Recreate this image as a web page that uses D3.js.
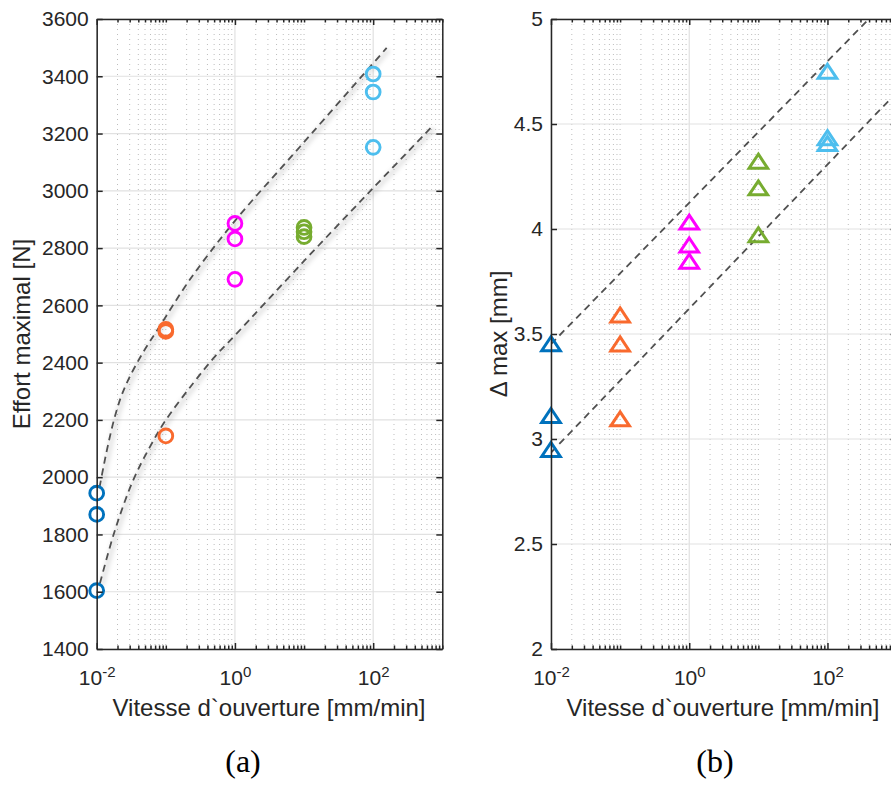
<!DOCTYPE html>
<html><head><meta charset="utf-8">
<script src="https://cdn.jsdelivr.net/npm/d3@7"></script>
<style>
html,body{margin:0;padding:0;background:#fff;}
svg{display:block;}
</style></head>
<body>
<svg id="chart" width="891" height="805"></svg>
<script>
// ---------- DATA ----------
const speeds = [0.01, 0.1, 1, 10, 100];
const seriesColors = ["#0072BD", "#F96A2E", "#FF00FF", "#77AC30", "#4DBEEE"];
// (a) Effort maximal [N]
const effort_001 = [1944, 1870, 1604];
const effort_01  = [2509, 2516, 2144];
const effort_1   = [2886, 2832, 2691];
const effort_10  = [2872, 2857, 2840];
const effort_100 = [3408, 3345, 3152];
// (b) Delta max [mm]
const delta_001 = [3.452, 3.110, 2.948];
const delta_01  = [3.589, 3.451, 3.094];
const delta_1   = [4.031, 3.922, 3.845];
const delta_10  = [4.321, 4.194, 3.971];
const delta_100 = [4.749, 4.433, 4.405];
// fitted curves (a)
const upperFitX = [0.011, 0.01275, 0.01457, 0.01778, 0.02245, 0.0293, 0.04668, 0.0822, 0.223, 1.0, 8.667, 156.7];
const upperFitY = [1965, 2045, 2112, 2200, 2280, 2345, 2435, 2528, 2690, 2895, 3153, 3499];
const lowerFitX = [0.01116, 0.01839, 0.03379, 0.05892, 0.1003, 0.2489, 0.5124, 1.0, 10, 100, 707.5];
const lowerFitY = [1630, 1815, 1990, 2106, 2200, 2328, 2421, 2495, 2755, 3010, 3224];
// fitted lines (b)
const lineX = [0.01, 1000];
const upperLineY = [3.452, 5.135];
const lowerLineY = [2.935, 4.65];
// ticks
const xTicks = [0.01, 1, 100];
const xTickExp = ["-2", "0", "2"];
const yTicksA = [1400,1600,1800,2000,2200,2400,2600,2800,3000,3200,3400,3600];
const yTicksB = [2, 2.5, 3, 3.5, 4, 4.5, 5];
const yTickLabelsB = ["2","2.5","3","3.5","4","4.5","5"];

// ---------- LAYOUT ----------
const svg = d3.select("#chart");
const axisColor = "#262626";
const font = "Liberation Sans, Arial, Helvetica, sans-serif";
const topY = 19, bottomY = 649;

const minorTicks = [];
for (let e = -2; e < 3; e++) for (let k = 2; k <= 10; k++) {
  const v = k * Math.pow(10, e);
  if (xTicks.some(t => Math.abs(t - v) / t < 1e-9)) continue;
  minorTicks.push(v);
}

const defs = svg.append("defs");
const f = defs.append("filter").attr("id","shadow").attr("x","-20%").attr("y","-20%").attr("width","140%").attr("height","140%");
f.append("feGaussianBlur").attr("stdDeviation", 2.2);

function panel(opts) {
  const x = d3.scaleLog().domain([0.01, 1000]).range([opts.left, opts.left + 345.6]);
  const y = d3.scaleLinear().domain(opts.yDomain).range([bottomY, topY]);
  const g = svg.append("g");
  const clipId = "clip" + opts.id;
  defs.append("clipPath").attr("id", clipId).append("rect")
    .attr("x", x.range()[0]).attr("y", topY).attr("width", x.range()[1]-x.range()[0]).attr("height", bottomY-topY);

  // minor grid (dotted)
  g.append("g").selectAll("line").data(minorTicks).join("line")
    .attr("x1", d => x(d)).attr("x2", d => x(d)).attr("y1", topY).attr("y2", bottomY)
    .attr("stroke", "#bdbdbd").attr("stroke-width", 1).attr("stroke-dasharray", "1,4");
  // major grid
  g.append("g").selectAll("line").data(xTicks).join("line")
    .attr("x1", d => x(d)).attr("x2", d => x(d)).attr("y1", topY).attr("y2", bottomY)
    .attr("stroke", "#e1e1e1").attr("stroke-width", 1.2);
  g.append("g").selectAll("line").data(opts.yTicks).join("line")
    .attr("x1", x.range()[0]).attr("x2", x.range()[1]).attr("y1", d => y(d)).attr("y2", d => y(d))
    .attr("stroke", "#e1e1e1").attr("stroke-width", 1.2);

  // fit lines
  const lg = g.append("g").attr("clip-path", `url(#${clipId})`);
  opts.fits.forEach(fit => {
    const pts = fit.xs.map((v, i) => [x(v), y(fit.ys[i])]);
    const gen = d3.line().curve(d3.curveCatmullRom.alpha(0.5));
    if (opts.shadow) {
      lg.append("path").attr("d", gen(pts)).attr("fill","none")
        .attr("stroke","#000").attr("stroke-opacity",0.10).attr("stroke-width",5)
        .attr("transform","translate(2,2)").attr("filter","url(#shadow)");
    }
    lg.append("path").attr("d", gen(pts)).attr("fill","none")
      .attr("stroke","#505050").attr("stroke-width",1.8).attr("stroke-dasharray","7,5");
  });

  // markers
  const mg = g.append("g");
  opts.series.forEach((vals, i) => {
    vals.forEach(v => {
      const cx = x(speeds[i]), cy = y(v);
      if (opts.marker === "circle") {
        mg.append("circle").attr("cx", cx).attr("cy", cy).attr("r", 6.9)
          .attr("fill","none").attr("stroke", seriesColors[i]).attr("stroke-width", 2.9);
      } else {
        mg.append("path")
          .attr("d", `M${cx},${cy - 7.4} L${cx + 9.3},${cy + 6.6} L${cx - 9.3},${cy + 6.6} Z`)
          .attr("fill","none").attr("stroke", seriesColors[i]).attr("stroke-width", 3)
          .attr("stroke-linejoin","miter");
      }
    });
  });

  // axes
  const ax = g.append("g").attr("font-family", font);
  const yAxL = d3.axisLeft(y).tickValues(opts.yTicks).tickSizeInner(-6).tickSizeOuter(0).tickPadding(8)
    .tickFormat((d,i) => opts.yLabels[i]);
  const ga = ax.append("g").attr("transform", `translate(${x.range()[0]},0)`).call(yAxL);
  ga.select(".domain").attr("stroke", axisColor).attr("stroke-width", 1.5);
  ga.selectAll(".tick line").attr("stroke", axisColor).attr("stroke-width", 1.5);
  ga.selectAll("text").attr("font-size", 21).attr("fill", axisColor).attr("font-family", font);

  const yAxR = d3.axisRight(y).tickValues(opts.yTicks).tickSizeInner(-6).tickSizeOuter(0).tickFormat("");
  const gr = ax.append("g").attr("transform", `translate(${x.range()[1]},0)`).call(yAxR);
  gr.select(".domain").attr("stroke", axisColor).attr("stroke-width", 1.5);
  gr.selectAll(".tick line").attr("stroke", axisColor).attr("stroke-width", 1.5);

  [["b", bottomY, d3.axisBottom], ["t", topY, d3.axisTop]].forEach(([k, yy, fn]) => {
    const gm = ax.append("g").attr("transform", `translate(0,${yy})`)
      .call(fn(x).tickValues(minorTicks).tickSizeInner(-3.5).tickSizeOuter(0).tickFormat(""));
    gm.select(".domain").remove();
    gm.selectAll(".tick line").attr("stroke", axisColor).attr("stroke-width", 1.5);
    const gM = ax.append("g").attr("transform", `translate(0,${yy})`)
      .call(fn(x).tickValues(xTicks).tickSizeInner(-6).tickSizeOuter(0).tickFormat(""));
    gM.select(".domain").attr("stroke", axisColor).attr("stroke-width", 1.5);
    gM.selectAll(".tick line").attr("stroke", axisColor).attr("stroke-width", 1.5);
    if (k === "b") {
      gM.selectAll(".tick").each(function(d, i) {
        const t = d3.select(this).append("text").attr("y", 36).attr("text-anchor","middle")
          .attr("font-family", font).attr("font-size", 21).attr("fill", axisColor);
        t.append("tspan").text("10");
        t.append("tspan").attr("dy", -8).attr("font-size", 15).text(xTickExp[i]);
      });
    }
  });

  // axis labels
  svg.append("text").attr("x", opts.xLabelX).attr("y", 716).attr("text-anchor","middle")
    .attr("font-family", font).attr("font-size", 24).attr("fill", axisColor)
    .text("Vitesse d`ouverture [mm/min]");
  svg.append("text").attr("transform", `translate(${opts.yLabelX},${(topY+bottomY)/2}) rotate(-90)`)
    .attr("text-anchor","middle").attr("font-family", font).attr("font-size", 24).attr("fill", axisColor)
    .text(opts.yTitle);
  svg.append("text").attr("x", opts.capX).attr("y", 772).attr("text-anchor","middle")
    .attr("font-family", "Liberation Serif, Times New Roman, serif").attr("font-size", 32).attr("fill", "#000")
    .text(opts.caption);
}

panel({
  id: "a", left: 96.7, yDomain: [1400, 3600], yTicks: yTicksA, yLabels: yTicksA.map(String),
  series: [effort_001, effort_01, effort_1, effort_10, effort_100], marker: "circle",
  fits: [{xs: upperFitX, ys: upperFitY}, {xs: lowerFitX, ys: lowerFitY}], shadow: true,
  xLabelX: 269, yLabelX: 30, yTitle: "Effort maximal [N]", capX: 243, caption: "(a)"
});
panel({
  id: "b", left: 551, yDomain: [2, 5], yTicks: yTicksB, yLabels: yTickLabelsB,
  series: [delta_001, delta_01, delta_1, delta_10, delta_100], marker: "triangle",
  fits: [{xs: lineX, ys: upperLineY}, {xs: lineX, ys: lowerLineY}], shadow: false,
  xLabelX: 723, yLabelX: 507, yTitle: "\u0394 max [mm]", capX: 715, caption: "(b)"
});
</script>
</body></html>
